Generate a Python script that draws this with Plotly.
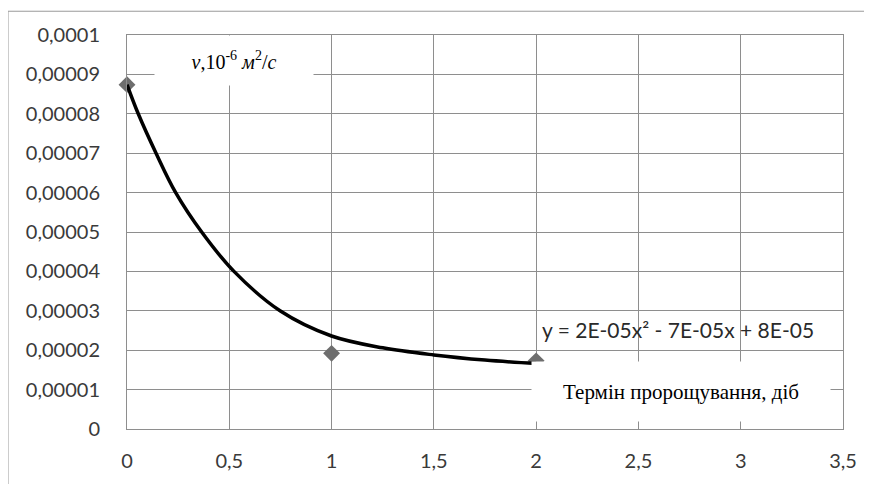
import plotly.graph_objects as go

# measured points
point_x = [0, 1, 2]
point_y = [0.0000874, 0.0000192, 0.0000173]

# smoothed curve
curve_x = [0, 0.055, 0.142, 0.238, 0.365, 0.523, 0.748, 1.0, 1.25, 1.5, 1.75, 2.0]
curve_y = [0.0000874, 0.00008, 0.00007, 0.00006, 0.00005, 0.00004,
           0.00003, 0.0000236, 0.0000206, 0.0000188, 0.0000175, 0.0000166]

y_tickvals = [0, 0.00001, 0.00002, 0.00003, 0.00004, 0.00005,
              0.00006, 0.00007, 0.00008, 0.00009, 0.0001]
y_ticktext = ["0", "0,00001", "0,00002", "0,00003", "0,00004", "0,00005",
              "0,00006", "0,00007", "0,00008", "0,00009", "0,0001"]
x_tickvals = [0, 0.5, 1, 1.5, 2, 2.5, 3, 3.5]
x_ticktext = ["0", "0,5", "1", "1,5", "2", "2,5", "3", "3,5"]

y_label = "<i>v</i>,10<sup>-6</sup> <i>м</i><sup>2</sup>/<i>с</i>"
x_label = "Термін пророщування, діб"
equation = "y = 2E-05x² - 7E-05x + 8E-05"

grid = "#8e8e8e"
tickfont = dict(family="Lato, sans-serif", size=20, color="#3a3a3a")

fig = go.Figure()
fig.add_trace(go.Scatter(
    x=point_x, y=point_y, mode="markers",
    marker=dict(symbol="diamond", size=13, color="#6e6e6e"),
    cliponaxis=False, showlegend=False, hoverinfo="skip"))
fig.add_trace(go.Scatter(
    x=curve_x, y=curve_y, mode="lines",
    line=dict(color="black", width=3.5, shape="spline", smoothing=1.0),
    cliponaxis=False, showlegend=False, hoverinfo="skip"))

fig.update_layout(
    width=864, height=476,
    margin=dict(l=119, r=29, t=27, b=51),
    paper_bgcolor="white", plot_bgcolor="white",
    xaxis=dict(range=[0, 3.5], tickvals=x_tickvals, ticktext=x_ticktext,
               showgrid=True, gridcolor=grid, gridwidth=1,
               showline=True, linecolor=grid, linewidth=1, mirror=True,
               zeroline=False, ticks="", tickfont=tickfont,
               ticklabelstandoff=14),
    yaxis=dict(range=[0, 0.0001], tickvals=y_tickvals, ticktext=y_ticktext,
               showgrid=True, gridcolor=grid, gridwidth=1,
               showline=True, linecolor=grid, linewidth=1, mirror=True,
               zeroline=False, ticks="", tickfont=tickfont,
               ticklabelstandoff=22),
    shapes=[
        dict(type="line", xref="paper", yref="paper",
             x0=-0.1662, y0=1.0603, x1=1.1, y1=1.0603,
             line=dict(color="#9a9a9a", width=1)),
        dict(type="line", xref="paper", yref="paper",
             x0=-0.1662, y0=1.0603, x1=-0.1662, y1=-0.2,
             line=dict(color="#9a9a9a", width=1)),
    ],
    annotations=[
        dict(text=y_label, xref="paper", yref="paper",
             x=0.1494, y=0.936, xanchor="center", yanchor="middle",
             showarrow=False, bgcolor="white", width=158, height=49,
             borderpad=0,
             font=dict(family="Liberation Serif, Times New Roman, serif",
                       size=20, color="black")),
        dict(text=x_label, xref="paper", yref="paper",
             x=0.7737, y=0.0942, xanchor="center", yanchor="middle",
             showarrow=False, bgcolor="white", width=298, height=59,
             borderpad=0,
             font=dict(family="Liberation Serif, Times New Roman, serif",
                       size=21, color="black")),
        dict(text=equation, xref="paper", yref="paper",
             x=(540 - 127) / 716, y=(433 - 332) / 398,
             xanchor="left", yanchor="middle", showarrow=False,
             font=dict(family="Lato, sans-serif", size=21, color="#2a2a2a")),
    ],
)

fig.write_html("out.html")
